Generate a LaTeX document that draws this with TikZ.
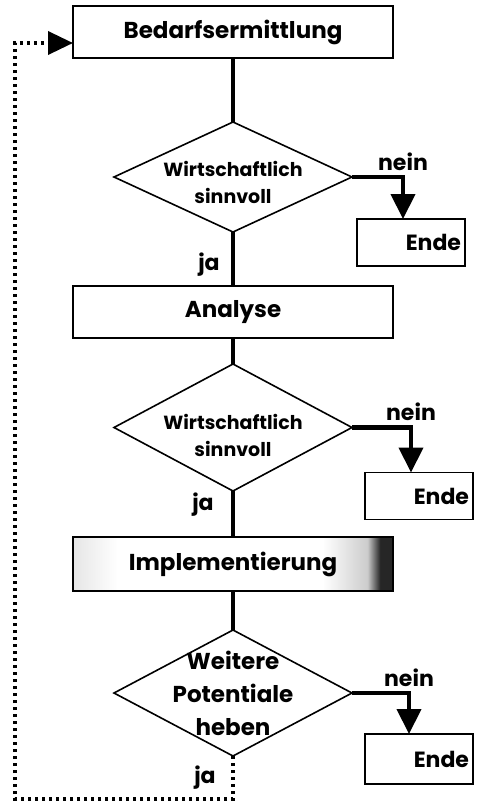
\documentclass[tikz,border=0pt]{standalone}
\usepackage{fontspec}
\setmainfont{Poppins}
\usetikzlibrary{positioning,shapes.geometric,arrows.meta}

% grey, smudged fill for the implementation step
\pgfdeclarehorizontalshading{smudge}{100bp}{color(0bp)=(gray!20); color(25bp)=(gray!20);
  color(32bp)=(white); color(64bp)=(white); color(71bp)=(gray!40); color(73bp)=(black!85);
  color(75bp)=(black!85); color(100bp)=(black!85)}

\begin{document}
\begin{tikzpicture}[x=1pt,y=1pt,outer sep=0pt,
    step font/.style={font=\bfseries\fontsize{23}{26}\selectfont},
    box/.style={rectangle,draw,line width=2pt,minimum width=320pt,minimum height=52pt,step font},
    decision/.style={diamond,draw,line width=1.6pt,minimum width=238pt,minimum height=110pt,
        aspect=2.2,inner sep=-16pt,align=center,font=\bfseries\fontsize{19}{27}\selectfont},
    ende/.style={rectangle,draw,line width=1.8pt,minimum width=108pt,minimum height=47pt,
        text width=100pt,align=right,inner sep=3pt,font=\bfseries\fontsize{22}{24}\selectfont},
    nothing/.style={text centered,font=\bfseries\fontsize{22}{24}\selectfont},
    flow/.style={line width=4pt},
    nein/.style={line width=4.2pt,-{Triangle[length=25pt,width=24pt]}},
    back/.style={line width=3.6pt,dash pattern=on 3.4pt off 3.6pt,-{Triangle[length=25pt,width=23pt]}}]

    \useasboundingbox (0,0) rectangle (479,-804);

    \node[box] (B1) at (233,-32)
    { Bedarfsermittlung };

    \node[decision, below=64pt of B1] (D1)
    { \rule{0pt}{26pt}Wirtschaftlich\\ sinnvoll };

    \node[ende, below right=42pt and 5pt of D1.east] (E1)
    { Ende };

    \node[box, below=54pt of D1] (B2)
    { Analyse };

    \node[decision, below=26pt of B2, minimum height=127pt] (D2)
    { \rule{0pt}{32pt}Wirtschaftlich\\ sinnvoll };

    \node[ende, below right=45pt and 13pt of D2.east] (E2)
    { Ende };

    \node[box, below=46pt of D2, minimum height=54pt, shading=smudge] (B3)
    { Implementierung };

    \node[decision, below=39pt of B3, minimum height=126pt, inner sep=-24pt,
        font=\bfseries\fontsize{23}{33}\selectfont] (D3)
    { Weitere\\ Potentiale\\ heben };

    \node[ende, below right=41pt and 13pt of D3.east, minimum height=50pt] (E3)
    { Ende };

    \coordinate (L) at (15,-799);

    \path[flow]
    {
        (B1) edge (D1)
        (D1) edge node[nothing, left=10pt, pos=0.6] {ja} (B2)
        (B2) edge (D2)
        (D2) edge node[nothing, left=16pt, pos=0.3] {ja} (B3)
        (B3) edge (D3)
    };

    \draw[nein] (D1.east) -| node[nothing, above=3pt, pos=0.5] {nein} ([xshift=-8pt]E1.north);
    \draw[nein] (D2.east) -| node[nothing, above=3pt, pos=0.5] {nein} ([xshift=-8pt]E2.north);
    \draw[nein] (D3.east) -| node[nothing, above=3pt, pos=0.5] {nein} ([xshift=-10pt]E3.north);

    % back to the start
    \draw[back] (D3.south) |- node[nothing, left=14pt, pos=0.25] {ja} (L) |- ([yshift=-11pt]B1.west);
\end{tikzpicture}
\end{document}
